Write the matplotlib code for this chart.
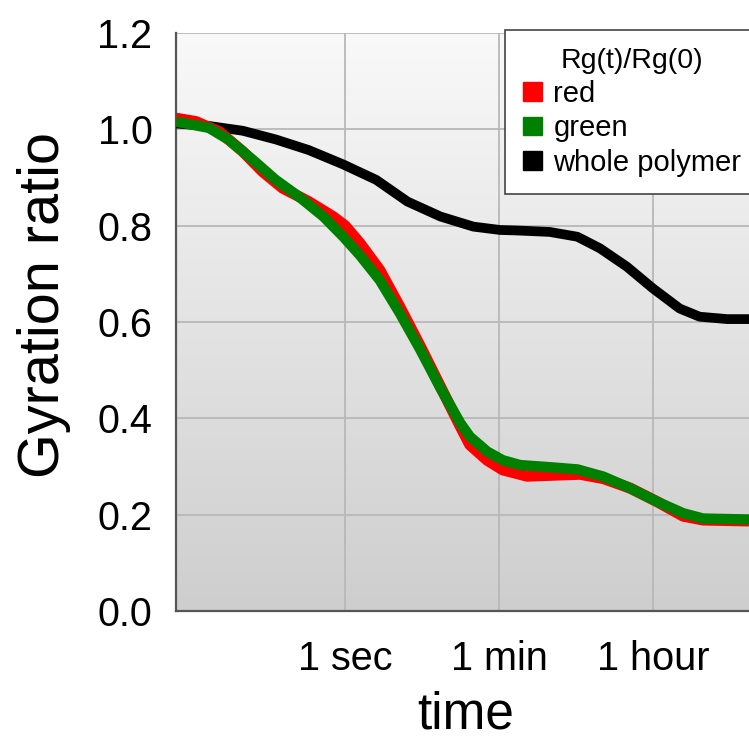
import numpy as np
import matplotlib
matplotlib.use("Agg")
import matplotlib.pyplot as plt
from matplotlib.colors import LinearSegmentedColormap
from matplotlib.patches import Patch

plt.rcParams["font.family"] = ["Liberation Sans", "DejaVu Sans"]

# time axis is log10(seconds); ratios are Rg(t)/Rg(0)
log_t_black = [-1.95, -1.57, -1.18, -0.80, -0.42, -0.02, 0.36, 0.72, 1.10, 1.48, 1.79, 1.98,
               2.36, 2.68, 2.94, 3.25, 3.55, 3.86, 4.09, 4.41, 4.66]
ratio_black = [1.012, 1.007, 0.997, 0.979, 0.957, 0.927, 0.895, 0.850, 0.819, 0.798, 0.791, 0.790,
               0.787, 0.777, 0.753, 0.715, 0.670, 0.628, 0.611, 0.606, 0.606]

log_t_red = [-1.95, -1.72, -1.45, -1.18, -0.95, -0.72, -0.42, -0.14, 0.0, 0.17, 0.40, 0.63, 0.87,
             1.10, 1.33, 1.44, 1.64, 1.82, 2.10, 2.40, 2.71, 2.98, 3.29, 3.60, 3.90, 4.13, 4.66]
ratio_red = [1.023, 1.016, 0.995, 0.954, 0.912, 0.878, 0.850, 0.819, 0.800, 0.764, 0.708, 0.632, 0.549,
             0.466, 0.383, 0.345, 0.313, 0.293, 0.280, 0.282, 0.284, 0.275, 0.255, 0.227, 0.197, 0.189, 0.187]

log_t_green = [-1.95, -1.57, -1.34, -1.06, -0.80, -0.53, -0.25, -0.02, 0.17, 0.40, 0.63, 0.87, 1.10,
               1.33, 1.44, 1.64, 1.82, 2.02, 2.40, 2.68, 2.98, 3.29, 3.60, 3.90, 4.13, 4.66]
ratio_green = [1.016, 1.003, 0.978, 0.936, 0.895, 0.860, 0.819, 0.777, 0.739, 0.687, 0.619, 0.542, 0.463,
               0.390, 0.362, 0.331, 0.313, 0.303, 0.298, 0.294, 0.279, 0.255, 0.227, 0.203, 0.192, 0.190]

tick_seconds = [1, 60, 3600]
tick_labels = ["1 sec", "1 min", "1 hour"]
y_ticks = [0.0, 0.2, 0.4, 0.6, 0.8, 1.0, 1.2]

fig = plt.figure(figsize=(7.49, 7.36), dpi=100)
ax = fig.add_axes([0.235, 0.1698, 0.765, 0.7854])

# light-to-dark grey gradient behind the curves
grad = np.linspace(0, 1, 256).reshape(-1, 1)
bg_cmap = LinearSegmentedColormap.from_list("bg", ["#f9f9f9", "#cecece"])
ax.imshow(grad, cmap=bg_cmap, extent=[0, 1, 0, 1], transform=ax.transAxes,
          aspect="auto", zorder=0, origin="upper")

line_kw = dict(solid_capstyle="butt", solid_joinstyle="round")
ax.plot(10 ** np.array(log_t_black), ratio_black, color="black", lw=7, zorder=3, **line_kw)
ax.plot(10 ** np.array(log_t_red), ratio_red, color="#ff0000", lw=8, zorder=4, **line_kw)
ax.plot(10 ** np.array(log_t_green), ratio_green, color="#008000", lw=7.5, zorder=5, **line_kw)

ax.set_xscale("log")
ax.set_xlim(10 ** -1.95, 10 ** 4.66)
ax.set_ylim(0, 1.2)
ax.set_xticks(tick_seconds)
ax.set_xticklabels(tick_labels)
ax.minorticks_off()
ax.set_yticks(y_ticks)
ax.set_yticklabels([f"{v:.1f}" for v in y_ticks])
ax.tick_params(axis="both", length=0, labelsize=28.5)
ax.tick_params(axis="x", pad=21)
ax.tick_params(axis="y", pad=17)
ax.grid(True, color="#b8b8b8", lw=1.3, zorder=1)
ax.set_axisbelow(True)

for side in ["top", "right"]:
    ax.spines[side].set_visible(False)
for side in ["left", "bottom"]:
    ax.spines[side].set_color("#555555")
    ax.spines[side].set_linewidth(1.6)

ax.set_xlabel("time", fontsize=37)
ax.xaxis.set_label_coords(0.506, -0.137)
ax.set_ylabel("Gyration ratio", fontsize=41.5)
ax.yaxis.set_label_coords(-0.183, 0.529)

handles = [Patch(color="#ff0000"), Patch(color="#008000"), Patch(color="black")]
leg = ax.legend(handles, ["red", "green", "whole polymer"], title="Rg(t)/Rg(0)",
                loc="upper left", bbox_to_anchor=(0.575, 1.005), borderaxespad=0,
                fontsize=21, title_fontsize=20.5,
                handlelength=0.66, handleheight=0.6, handletextpad=0.38, labelspacing=0.22,
                borderpad=0.6, fancybox=False, framealpha=1, edgecolor="#444444")
leg.get_frame().set_linewidth(1.2)
leg.set_zorder(10)

fig.savefig("out.png", dpi=100)
